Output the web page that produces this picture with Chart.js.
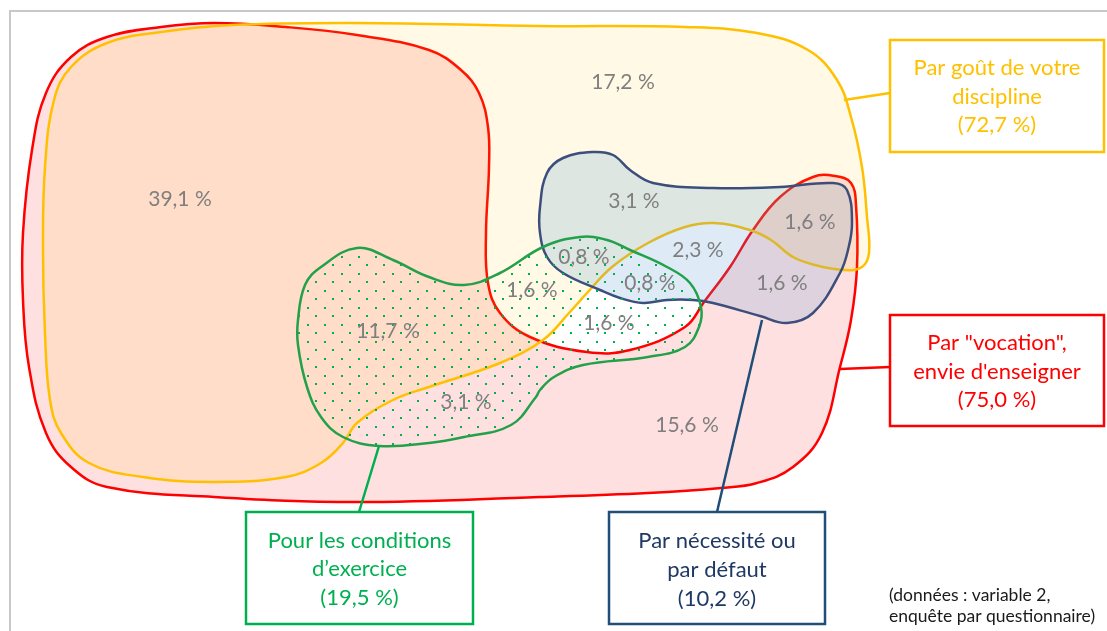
<!DOCTYPE html>
<html>
<head>
<meta charset="utf-8">
<script src="https://cdn.jsdelivr.net/npm/chart.js@4"></script>
<style>
  html, body { margin: 0; padding: 0; background: #fff; }
  canvas { display: block; }
</style>
</head>
<body>
<canvas id="venn" width="1107" height="631"></canvas>
<script>
// Outlines of the four sets (page pixels)
const vocationOutline = [
  [107,37],[161,27],[214,23],[286,27],[357,35],[429,50],[461,70],[479,93],[488,127],[489,167],
  [486,233],[488,283],[500,313],[530,337],[587,352],[630,350],[685,327],[704,302],[730,267],
  [753,230],[780,197],[813,177],[835,176],[851,183],[856,205],[857,267],[851,320],[840,367],
  [822,433],[793,467],[757,483],[721,488],[648,493],[540,497],[357,502],[214,497],[107,487],
  [71,467],[46,433],[29,367],[23,300],[23,233],[32,150],[46,93],[71,57]
];
const disciplineOutline = [
  [107,43],[161,32],[232,25],[357,23],[540,26],[685,27],[757,33],[808,50],[837,80],[851,117],
  [862,167],[867,217],[869,253],[862,267],[844,270],[815,265],[793,257],[771,240],[750,230],
  [714,223],[685,227],[648,243],[612,267],[587,293],[569,313],[543,340],[500,363],[429,387],
  [393,400],[357,423],[343,443],[321,463],[286,477],[214,482],[143,477],[89,463],[61,433],
  [50,400],[45,333],[43,250],[45,167],[54,100],[71,67]
];
const necessiteOutline = [
  [547,173],[563,158],[593,152],[613,155],[630,170],[653,183],[713,188],[780,187],[833,183],
  [847,190],[852,223],[848,250],[840,273],[813,313],[787,323],[760,316],[713,303],[693,300],
  [667,300],[643,303],[620,298],[600,290],[563,273],[547,257],[540,233],[540,207]
];
const conditionsOutline = [
  [298,320],[305,285],[321,267],[357,248],[393,260],[429,277],[464,285],[500,273],[543,247],
  [580,237],[607,240],[630,250],[667,267],[690,283],[701,307],[699,327],[685,347],[648,357],
  [583,365],[554,377],[540,390],[536,397],[511,425],[464,437],[429,443],[379,446],[343,437],
  [321,417],[307,387],[298,345]
];

// Share of each region
const regionValues = ['17,2 %','39,1 %','3,1 %','1,6 %','2,3 %','0,8 %','1,6 %','0,8 %','1,6 %','1,6 %','11,7 %','3,1 %','15,6 %'];
const regionAnchors = [
  [623,82],[180,199],[634,201],[810,222],[698,250],[584,257],[532,290],[650,283],[782,283],
  [609,323],[388,331],[466,402],[687,425]
];

// Legend boxes
const boxLabels = [
  ['Par goût de votre', 'discipline', '(72,7 %)'],
  ['Par "vocation",', 'envie d\'enseigner', '(75,0 %)'],
  ['Pour les conditions', 'd\u2019exercice', '(19,5 %)'],
  ['Par nécessité ou', 'par défaut', '(10,2 %)']
];
const boxRects = [[890,40,1104,152],[890,315,1104,426],[246,512,473,624],[609,512,825,624]];
const boxColors = ['#ffc000','#ff0000','#00b050','#1f4e79'];
const boxTextColors = ['#ffc000','#ff0000','#00b050','#1f3864'];
const boxLineY = [[68,97,125],[343,372,400],[541,569,598],[541,570,599]];
const connectors = [
  [[844,100],[890,93]],
  [[840,369],[890,367]],
  [[379,446],[359,512]],
  [[762,320],[717,512]]
];

const noteLines = ['(données : variable 2,', 'enquête par questionnaire)'];

const toPoints = arr => arr.map(p => ({ x: p[0], y: p[1] }));

function dotPattern() {
  const c = document.createElement('canvas');
  c.width = 17; c.height = 17;
  const g = c.getContext('2d');
  g.fillStyle = '#00b050';
  g.fillRect(1, 1, 2, 2);
  g.fillRect(9, 9, 2, 2);
  return g.createPattern(c, 'repeat');
}

// Closed outlines: let the line element loop back to its first point
const closeShapes = {
  id: 'closeShapes',
  afterDatasetUpdate(chart, args) {
    const ds = chart.data.datasets[args.index];
    if (!ds.closed) return;
    const line = args.meta.dataset;
    line._loop = true;
    line._fullLoop = true;
    line._pointsUpdated = false;
    delete line._segments;
    delete line._path;
  }
};

const frameAndText = {
  id: 'frameAndText',
  beforeDraw(chart) {
    const ctx = chart.ctx;
    ctx.save();
    ctx.fillStyle = '#fff';
    ctx.fillRect(0, 0, chart.width, chart.height);
    ctx.strokeStyle = '#c8c8c8';
    ctx.lineWidth = 2;
    ctx.beginPath();
    ctx.moveTo(10, chart.height);
    ctx.lineTo(10, 11);
    ctx.lineTo(chart.width, 11);
    ctx.stroke();
    ctx.restore();
  },
  afterDatasetsDraw(chart) {
    const ctx = chart.ctx;
    const xs = chart.scales.x, ys = chart.scales.y;
    ctx.save();
    ctx.textAlign = 'center';
    ctx.textBaseline = 'middle';
    ctx.font = '21px Lato';
    ctx.fillStyle = '#7f7f7f';
    regionValues.forEach((t, i) => {
      ctx.fillText(t, xs.getPixelForValue(regionAnchors[i][0]), ys.getPixelForValue(regionAnchors[i][1]));
    });
    ctx.font = '22px Lato';
    boxLabels.forEach((lines, i) => {
      const r = boxRects[i];
      const cx = xs.getPixelForValue((r[0] + r[2]) / 2);
      ctx.fillStyle = boxTextColors[i];
      lines.forEach((l, j) => ctx.fillText(l, cx, ys.getPixelForValue(boxLineY[i][j])));
    });
    ctx.textAlign = 'left';
    ctx.font = '17.5px Lato';
    ctx.fillStyle = '#1a1a1a';
    noteLines.forEach((l, j) => ctx.fillText(l, xs.getPixelForValue(889), ys.getPixelForValue(595 + j * 21)));
    ctx.restore();
  }
};

function shape(label, outline, stroke, fill) {
  return {
    label: label,
    data: toPoints(outline),
    closed: true,
    borderColor: stroke,
    borderWidth: 2.5,
    backgroundColor: fill,
    fill: 'shape',
    tension: 0.4,
    pointRadius: 0
  };
}

const datasets = [
  shape('vocation', vocationOutline, '#ff0000', 'rgba(255, 0, 0, 0.12)'),
  shape('discipline', disciplineOutline, '#ffc000', 'rgba(255, 192, 0, 0.1)'),
  shape('necessite', necessiteOutline, '#3c4f7c', 'rgba(91, 155, 213, 0.2)'),
  shape('conditions', conditionsOutline, '#22a04a', dotPattern())
];

connectors.forEach((c, i) => {
  datasets.push({
    label: 'connector' + i,
    data: toPoints(c),
    borderColor: boxColors[i],
    borderWidth: 2.5,
    fill: false,
    tension: 0,
    pointRadius: 0
  });
});

boxRects.forEach((r, i) => {
  datasets.push({
    label: 'box' + i,
    data: toPoints([[r[0], r[1]], [r[2], r[1]], [r[2], r[3]], [r[0], r[3]]]),
    closed: true,
    borderColor: boxColors[i],
    borderWidth: 2.5,
    backgroundColor: '#ffffff',
    fill: 'shape',
    tension: 0,
    pointRadius: 0
  });
});

// first dataset is drawn on top, so reverse to keep the listed order bottom-up
datasets.forEach((d, i) => { d.order = datasets.length - i; });

new Chart(document.getElementById('venn'), {
  type: 'line',
  data: { datasets: datasets },
  options: {
    responsive: false,
    animation: false,
    layout: { padding: 0 },
    scales: {
      x: { type: 'linear', min: 0, max: 1107, display: false },
      y: { type: 'linear', min: 0, max: 631, reverse: true, display: false }
    },
    plugins: {
      legend: { display: false },
      tooltip: { enabled: false },
      filler: { drawTime: 'beforeDatasetDraw' }
    },
    events: []
  },
  plugins: [closeShapes, frameAndText]
});
</script>
</body>
</html>
